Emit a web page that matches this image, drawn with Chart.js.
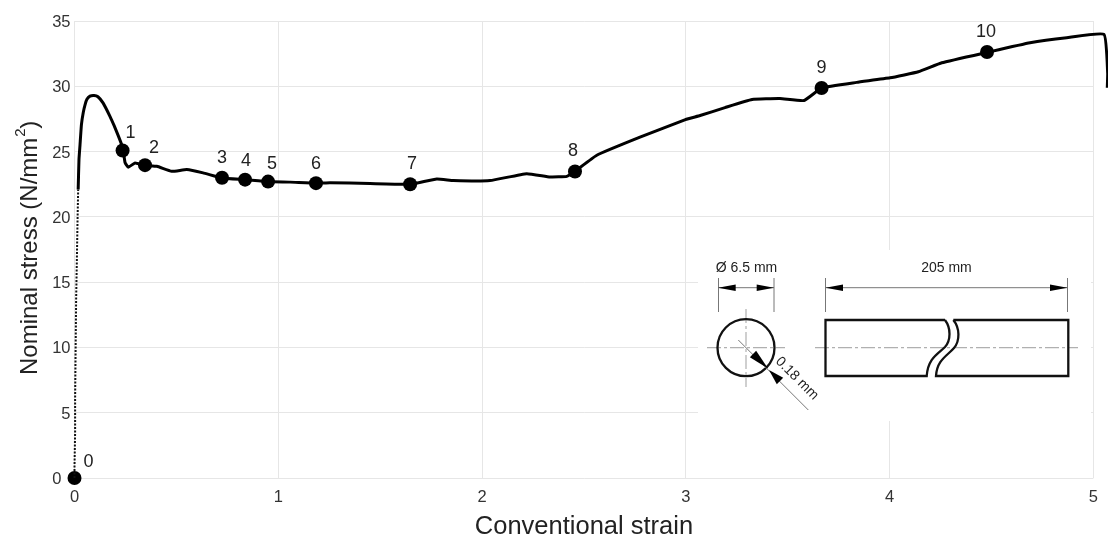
<html lang="en">
<head>
<meta charset="UTF-8">
<title>Nominal stress vs conventional strain</title>
<script src="https://cdn.jsdelivr.net/npm/chart.js"></script>
<style>
  html, body { margin: 0; padding: 0; background: #fff; }
  canvas { display: block; }
</style>
</head>
<body>
<canvas id="grafico" width="1108" height="537"></canvas>
<script>
// first part of the curve, drawn dotted
var dottedStrain = [0, 0, 0.003, 0.003, 0.008, 0.011, 0.015, 0.018];
var dottedStress = [0, 0.85, 3.45, 6, 13.65, 16.2, 19.8, 22.1];

var curveStrain = [0.018, 0.022, 0.027, 0.034, 0.043, 0.052, 0.061, 0.076, 0.096, 0.115, 0.14, 0.174, 0.194, 0.215, 0.232, 0.24, 0.248, 0.264, 0.297, 0.346,
  0.404, 0.477, 0.551, 0.631, 0.723, 0.837, 0.95, 1.058, 1.185, 1.254, 1.45, 1.647, 1.778, 1.859, 2.039, 2.219,
  2.334, 2.416, 2.456, 2.563, 2.775, 2.998, 3.07, 3.192, 3.325, 3.462, 3.58, 3.666, 3.838, 4.002, 4.141, 4.256,
  4.479, 4.689, 4.869, 5.052, 5.07, 5.068];
var curveStress = [22.1, 24.4, 25.5, 27.07, 28.0, 28.6, 29.0, 29.25, 29.3, 29.2, 28.73, 27.7, 27.0, 26.2, 25.5, 25.0, 24.16, 23.8, 24.13, 23.95,
  23.87, 23.49, 23.62, 23.37, 22.98, 22.85, 22.7, 22.66, 22.58, 22.62, 22.55, 22.5, 22.9, 22.78, 22.78, 23.31,
  23.06, 23.1, 23.49, 24.72, 26.1, 27.45, 27.76, 28.37, 28.99, 29.06, 28.91, 29.87, 30.3, 30.65, 31.11, 31.8,
  32.6, 33.33, 33.72, 33.97, 31.0, 29.88];

var markerStrain = [0, 0.236, 0.346, 0.724, 0.837, 0.95, 1.185, 1.647, 2.456, 3.666, 4.478];
var markerStress = [0, 25.08, 23.96, 23.0, 22.85, 22.7, 22.58, 22.5, 23.47, 29.87, 32.63];
var markerLabels = ["0", "1", "2", "3", "4", "5", "6", "7", "8", "9", "10"];

var strainTicks = [0, 1, 2, 3, 4, 5];
var stressTicks = [0, 5, 10, 15, 20, 25, 30, 35];

function puntos(xs, ys) {
    return xs.map(function (x, i) { return { x: x, y: ys[i] }; });
}

var fuente = '"Liberation Sans", Arial, sans-serif';

// etiquetas 0..10 junto a cada punto
var pluginEtiquetas = {
    id: 'etiquetas',
    afterDatasetsDraw: function (chart) {
        var offsets = [[14, -16], [8, -17], [9, -17], [0, -20], [1, -19], [4, -18], [0, -19], [2, -20], [-2, -21], [0, -20], [-1, -20]];
        var meta = chart.getDatasetMeta(2);
        var ctx = chart.ctx;
        ctx.save();
        ctx.font = '18px ' + fuente;
        ctx.fillStyle = '#222';
        ctx.textAlign = 'center';
        ctx.textBaseline = 'middle';
        meta.data.forEach(function (p, i) {
            ctx.fillText(markerLabels[i], p.x + offsets[i][0], p.y + offsets[i][1]);
        });
        ctx.restore();
    }
};

function flecha(ctx, tx, ty, bx, by, ancho) {
    var a = Math.atan2(by - ty, bx - tx) + Math.PI / 2;
    var dx = Math.cos(a) * ancho, dy = Math.sin(a) * ancho;
    ctx.beginPath();
    ctx.moveTo(tx, ty);
    ctx.lineTo(bx + dx, by + dy);
    ctx.lineTo(bx - dx, by - dy);
    ctx.closePath();
    ctx.fill();
}

function linea(ctx, x1, y1, x2, y2) {
    ctx.beginPath();
    ctx.moveTo(x1, y1);
    ctx.lineTo(x2, y2);
    ctx.stroke();
}

// esquema de la probeta, abajo a la derecha
function dibujarProbeta(ctx) {
    ctx.save();
    ctx.fillStyle = '#fff';
    ctx.fillRect(698, 250, 393, 171);

    // ejes de simetria
    ctx.strokeStyle = '#b0b0b0';
    ctx.lineWidth = 1.2;
    ctx.setLineDash([14, 3, 3, 3]);
    linea(ctx, 707, 347.7, 785, 347.7);
    linea(ctx, 746, 309, 746, 387);
    linea(ctx, 815, 347.7, 1078, 347.7);
    ctx.setLineDash([]);

    // circulo y rectangulo partido
    ctx.strokeStyle = '#111';
    ctx.lineWidth = 2.3;
    ctx.beginPath();
    ctx.arc(746, 347.7, 28.5, 0, Math.PI * 2);
    ctx.stroke();

    ctx.beginPath();
    ctx.moveTo(945, 320);
    ctx.lineTo(825.5, 320);
    ctx.lineTo(825.5, 376);
    ctx.lineTo(926.7, 376);
    ctx.bezierCurveTo(928, 358, 938, 354, 945, 347);
    ctx.bezierCurveTo(951, 340, 951, 328, 945, 320);
    ctx.stroke();

    ctx.beginPath();
    ctx.moveTo(953.3, 320);
    ctx.lineTo(1068.3, 320);
    ctx.lineTo(1068.3, 376);
    ctx.lineTo(936, 376);
    ctx.bezierCurveTo(937, 360, 947, 356, 954, 348);
    ctx.bezierCurveTo(960, 341, 960, 328, 953.3, 320);
    ctx.stroke();

    // cotas
    ctx.strokeStyle = '#777';
    ctx.lineWidth = 1;
    linea(ctx, 718.5, 278, 718.5, 312);
    linea(ctx, 774, 278, 774, 312);
    linea(ctx, 718, 287.7, 774, 287.7);
    linea(ctx, 825.5, 278, 825.5, 312);
    linea(ctx, 1067.5, 278, 1067.5, 312);
    linea(ctx, 825, 287.7, 1067, 287.7);
    linea(ctx, 738.3, 340, 808.3, 410);

    ctx.fillStyle = '#000';
    flecha(ctx, 718, 287.7, 735.7, 287.7, 3.2);
    flecha(ctx, 774, 287.7, 756.7, 287.7, 3.2);
    flecha(ctx, 825.5, 287.7, 843, 287.7, 3.2);
    flecha(ctx, 1067.5, 287.7, 1050, 287.7, 3.2);
    flecha(ctx, 768, 368.5, 753, 354, 4.5);
    flecha(ctx, 769, 370, 780, 381, 4.5);

    ctx.fillStyle = '#222';
    ctx.textAlign = 'center';
    ctx.textBaseline = 'middle';
    ctx.font = '14px ' + fuente;
    ctx.fillText('Ø 6.5 mm', 746.5, 268);
    ctx.fillText('205 mm', 946.5, 268);
    ctx.translate(797, 378.5);
    ctx.rotate(Math.PI / 4);
    ctx.fillText('0.18 mm', 0, 0);
    ctx.restore();
}

// titulo del eje y con el exponente
function dibujarTituloY(ctx) {
    ctx.save();
    ctx.translate(37, 375);
    ctx.rotate(-Math.PI / 2);
    ctx.fillStyle = '#222';
    ctx.textAlign = 'left';
    ctx.textBaseline = 'alphabetic';
    ctx.font = '24px ' + fuente;
    var base = 'Nominal stress (N/mm';
    ctx.fillText(base, 0, 0);
    var w = ctx.measureText(base).width;
    ctx.font = '15px ' + fuente;
    ctx.fillText('2', w + 1, -12);
    ctx.font = '24px ' + fuente;
    ctx.fillText(')', w + 9, 0);
    ctx.restore();
}

var pluginExtras = {
    id: 'extras',
    afterDraw: function (chart) {
        dibujarProbeta(chart.ctx);
        dibujarTituloY(chart.ctx);
    }
};

var ctx = document.getElementById('grafico').getContext('2d');
var grafico = new Chart(ctx, {
    type: 'scatter',
    data: {
        datasets: [
            {
                label: 'dotted',
                data: puntos(dottedStrain, dottedStress),
                showLine: true,
                borderColor: '#111',
                borderWidth: 2,
                borderDash: [2, 1.5],
                pointRadius: 0,
                clip: false
            },
            {
                label: 'curve',
                data: puntos(curveStrain, curveStress),
                showLine: true,
                borderColor: '#000',
                borderWidth: 3,
                borderJoinStyle: 'round',
                tension: 0.12,
                pointRadius: 0,
                clip: false
            },
            {
                label: 'markers',
                data: puntos(markerStrain, markerStress),
                showLine: false,
                pointRadius: 7,
                pointBackgroundColor: '#000',
                pointBorderWidth: 0,
                clip: false
            }
        ]
    },
    options: {
        responsive: false,
        animation: false,
        events: [],
        layout: { padding: { top: 21, right: 14, left: 0, bottom: 0 } },
        plugins: { legend: { display: false }, tooltip: { enabled: false } },
        scales: {
            x: {
                type: 'linear',
                min: 0,
                max: 5,
                afterBuildTicks: function (axis) {
                    axis.ticks = strainTicks.map(function (v) { return { value: v }; });
                },
                afterFit: function (axis) { axis.height = 59; },
                grid: { color: '#e6e6e6', drawTicks: false },
                border: { display: false },
                ticks: { color: '#333', padding: 10, maxRotation: 0, font: { size: 16.5, family: fuente } },
                title: {
                    display: true,
                    text: 'Conventional strain',
                    color: '#222',
                    padding: { top: 7, bottom: -5 },
                    font: { size: 25.5, family: fuente }
                }
            },
            y: {
                type: 'linear',
                min: 0,
                max: 35,
                afterBuildTicks: function (axis) {
                    axis.ticks = stressTicks.map(function (v) { return { value: v }; });
                },
                afterFit: function (axis) { axis.width = 74.5; },
                grid: { color: '#e6e6e6', drawTicks: false },
                border: { display: false },
                ticks: {
                    color: '#333',
                    padding: 4,
                    labelOffset: 1.5,
                    font: { size: 16.5, family: fuente },
                    // el 0 queda a la izquierda del punto
                    callback: function (v) { return v === 0 ? '0\u00a0\u00a0' : String(v); }
                }
            }
        }
    },
    plugins: [pluginEtiquetas, pluginExtras]
});
</script>
</body>
</html>
